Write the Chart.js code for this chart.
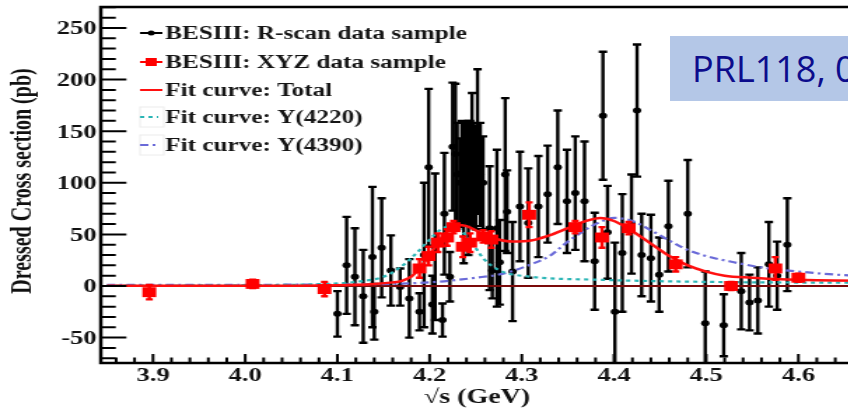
<!DOCTYPE html>
<html><head><meta charset="utf-8">
<script src="https://cdn.jsdelivr.net/npm/chart.js@4.4.1/dist/chart.umd.min.js"></script>
<style>
html,body{margin:0;padding:0;background:#fff;overflow:hidden;width:848px;height:410px;}
#wrap{position:absolute;left:0;top:0;width:640px;height:410px;transform:scaleX(1.4);transform-origin:0 0;}
#note{position:absolute;left:670px;top:36px;width:240px;height:65px;background:#b4c7e7;color:#0c0c8c;font-family:'Open Sans';font-size:36px;line-height:65px;padding-left:22px;box-sizing:border-box;white-space:nowrap;}
</style></head><body>
<div id="wrap"><canvas id="c" width="640" height="410"></canvas></div>
<div id="note">PRL118, 0</div>
<script>
// ---------- data ----------
const rscanEnergy = [4.100,4.110,4.119,4.128,4.138,4.140,4.148,4.158,4.168,4.178,4.189,4.194,4.199,4.203,4.206,4.214,4.216,4.222,4.225,
  4.228,4.230,4.233,4.235,4.237,4.240,4.242,4.244,4.246,4.248,4.250,4.252,4.255,4.258,
  4.265,4.268,4.273,4.276,4.282,4.284,4.290,4.298,4.307,4.318,4.328,4.339,4.349,4.358,4.368,4.379,4.388,4.393,4.401,4.409,
  4.419,4.425,4.430,4.440,4.449,4.459,4.480,4.499,4.519,4.538,4.547,4.556,4.568,4.577,4.588];
const rscanXsec = [-27,20,9,-10,28,-25,37,15,-1,-12,-25,30,115,-18,38,-33,70,9,135,
  128,108,100,110,90,110,95,110,122,108,105,140,108,100,
  56,15,56,23,108,72,14,77,61,77,89,115,82,90,82,24,165,52,-25,32,
  60,170,30,27,11,58,70,-36,-38,-5,-16,-14,21,10,40];
const rscanErr = [22,47,47,45,68,27,48,34,18,38,18,70,76,28,71,16,59,24,62,
  68,50,43,50,68,48,65,50,65,50,50,70,50,45,
  60,27,76,41,74,40,48,53,53,49,47,55,50,55,58,47,62,45,67,57,
  48,64,40,42,36,44,52,50,30,37,27,32,41,33,45];

const xyzEnergy = [3.896,4.008,4.086,4.189,4.199,4.209,4.219,4.226,4.236,4.244,4.258,4.267,4.308,4.358,4.387,4.416,4.467,4.527,4.575,4.600];
const xyzXsec   = [-6,2,-3,17,29,42,47,57,38,42,48,45,69,57,47,56,21,0,17,8];
const xyzErr    = [7,4,7,9,9,9,8,6,10,9,6,8,12,6,10,6,7,4,11,4];

const totalEnergy = [3.85,4.00,4.10,4.14,4.16,4.17,4.18,4.19,4.20,4.21,4.22,4.23,4.24,4.25,4.26,4.27,4.29,4.31,4.33,4.35,4.37,4.385,4.40,4.42,4.44,4.46,4.48,4.50,4.52,4.55,4.58,4.62,4.69];
const totalXsec   = [0.2,0.3,0.8,2,3.5,5,9,18,30,43,54,59,58,54,49,46,43,44,49,56,63,66,63,53,41,29,20,14,10,8,6.5,5.5,5];
const y4220Energy = [3.85,4.00,4.08,4.12,4.15,4.168,4.186,4.20,4.211,4.22,4.226,4.235,4.246,4.258,4.276,4.31,4.385,4.50,4.69];
const y4220Xsec   = [0.3,0.8,1.8,4,9,18,32,45,54,58,59,53,42,27,15,9,6,4,3];
const y4390Energy = [3.85,4.10,4.20,4.25,4.28,4.31,4.33,4.35,4.37,4.385,4.40,4.42,4.44,4.46,4.48,4.50,4.53,4.56,4.60,4.65,4.69];
const y4390Xsec   = [1,1.5,3.5,8,12,21,29,43,55,62,66,63,54,44,35,29,23,18,14,10.5,9.5];

const xTickValues = [3.9,4.0,4.1,4.2,4.3,4.4,4.5,4.6];
const xTickLabels = ['3.9','4.0','4.1','4.2','4.3','4.4','4.5','4.6'];
const xMinorStep = 0.02;
const yTickValues = [-50,0,50,100,150,200,250];
const yTickLabels = ['-50','0','50','100','150','200','250'];
const yMinorStep = 10;
const refLineValue = 0;
const xTitle = '\u221As (GeV)';
const yTitle = 'Dressed Cross section (pb)';
const seriesLabels = ['BESIII: R-scan data sample','BESIII: XYZ data sample','Fit curve: Total','Fit curve: Y(4220)','Fit curve: Y(4390)'];

// ---------- build ----------
const pts = (xs, ys) => xs.map((x, i) => ({x, y: ys[i]}));
const SERIF = '"Liberation Serif", "Times New Roman", serif';

const decor = {
  id: 'decor',
  beforeDatasetDraw(chart, args) {
    const ds = chart.data.datasets[args.index];
    if (!ds.errors) return;
    const {ctx, chartArea: a} = chart;
    const ys = chart.scales.y;
    ctx.save();
    ctx.beginPath(); ctx.rect(a.left, a.top, a.right - a.left, a.bottom - a.top); ctx.clip();
    ctx.strokeStyle = ds.errColor; ctx.lineWidth = ds.errWidth;
    const cap = ds.capHalf;
    args.meta.data.forEach((el, i) => {
      const v = ds.data[i].y, e = ds.errors[i];
      const y1 = ys.getPixelForValue(v + e), y2 = ys.getPixelForValue(v - e);
      ctx.beginPath();
      ctx.moveTo(el.x, y1); ctx.lineTo(el.x, y2);
      ctx.moveTo(el.x - cap, y1); ctx.lineTo(el.x + cap, y1);
      ctx.moveTo(el.x - cap, y2); ctx.lineTo(el.x + cap, y2);
      ctx.stroke();
    });
    ctx.restore();
  },
  afterDatasetDraw(chart, args) {
    const ds = chart.data.datasets[args.index];
    if (!ds.zeroAfter) return;
    const {ctx, chartArea: a} = chart;
    const y0 = chart.scales.y.getPixelForValue(refLineValue);
    ctx.save();
    ctx.strokeStyle = '#7a0a0a'; ctx.lineWidth = 2;
    ctx.beginPath(); ctx.moveTo(a.left, y0); ctx.lineTo(a.right, y0); ctx.stroke();
    ctx.restore();
  },
  afterDraw(chart) {
    const {ctx, chartArea: a} = chart;
    const xs = chart.scales.x, ys = chart.scales.y;
    ctx.save();
    // frame
    ctx.strokeStyle = '#000'; ctx.lineWidth = 2.5;
    ctx.strokeRect(a.left, a.top, a.right - a.left, a.bottom - a.top);
    // inward ticks
    ctx.lineWidth = 2;
    ctx.beginPath();
    for (let k = Math.ceil(ys.min / yMinorStep); k <= Math.floor(ys.max / yMinorStep); k++) {
      const v = k * yMinorStep;
      const major = yTickValues.includes(v);
      const p = ys.getPixelForValue(v);
      ctx.moveTo(a.left, p); ctx.lineTo(a.left + (major ? 18.3 : 10.7), p);
    }
    for (let k = Math.ceil(xs.min / xMinorStep - 1e-9); k <= Math.floor(xs.max / xMinorStep + 1e-9); k++) {
      const v = k * xMinorStep;
      const major = xTickValues.some(t => Math.abs(t - v) < 1e-6);
      const p = xs.getPixelForValue(v);
      ctx.moveTo(p, a.bottom); ctx.lineTo(p, a.bottom - (major ? 9 : 5.5));
    }
    ctx.stroke();
    // tick labels
    ctx.fillStyle = '#111';
    ctx.font = 'bold 19px ' + SERIF;
    ctx.textAlign = 'right'; ctx.textBaseline = 'alphabetic';
    yTickValues.forEach((v, i) => ctx.fillText(yTickLabels[i], a.left - 3, ys.getPixelForValue(v) + 6.5));
    ctx.textAlign = 'center';
    xTickValues.forEach((v, i) => ctx.fillText(xTickLabels[i], xs.getPixelForValue(v), a.bottom + 18));
    // titles
    ctx.font = 'bold 20px ' + SERIF;
    ctx.fillText(xTitle, 340.7, 403);
    ctx.save();
    ctx.translate(16.4, 181); ctx.rotate(-Math.PI / 2);
    ctx.textBaseline = 'middle';
    ctx.fillText(yTitle, 0, 0);
    ctx.restore();
    // legend
    const rows = [33, 62, 90, 117, 145];
    const sx0 = 100, sx1 = 116, tx = 118;
    chart.data.datasets.forEach((ds, i) => {
      const y = rows[i];
      ctx.save();
      if (i >= 3) { ctx.strokeStyle = '#ececec'; ctx.lineWidth = 1; ctx.strokeRect(sx0, y - 10, sx1 - sx0 + 1, 20); }
      ctx.strokeStyle = ds.legendColor; ctx.lineWidth = 2;
      ctx.setLineDash(ds.borderDash || []);
      ctx.beginPath(); ctx.moveTo(sx0, y); ctx.lineTo(i >= 3 ? sx1 - 3 : sx1, y); ctx.stroke();
      ctx.setLineDash([]);
      ctx.fillStyle = ds.legendColor;
      if (i === 0) { ctx.beginPath(); ctx.arc(108, y, 2.5, 0, Math.PI * 2); ctx.fill(); }
      if (i === 1) { ctx.fillRect(104, y - 4, 8, 8); }
      ctx.restore();
      ctx.textAlign = 'left'; ctx.textBaseline = 'alphabetic';
      ctx.font = 'bold 18px ' + SERIF; ctx.fillStyle = '#151515';
      ctx.fillText(ds.label, tx, y + 6);
    });
    ctx.restore();
  }
};

new Chart(document.getElementById('c'), {
  type: 'scatter',
  data: {
    datasets: [
      { label: seriesLabels[0], data: pts(rscanEnergy, rscanXsec), errors: rscanErr, errColor: '#000', errWidth: 2.4, capHalf: 3,
        pointRadius: 3, pointBorderWidth: 0, backgroundColor: '#000', borderColor: '#000', showLine: false, order: 10, zeroAfter: true, legendColor: '#000' },
      { label: seriesLabels[1], data: pts(xyzEnergy, xyzXsec), errors: xyzErr, errColor: '#ff0000', errWidth: 2.4, capHalf: 2.5,
        pointStyle: 'rect', pointRadius: 7, pointBorderWidth: 0, backgroundColor: '#ff0000', borderColor: '#ff0000', showLine: false, order: 0, legendColor: '#ff0000' },
      { label: seriesLabels[2], data: pts(totalEnergy, totalXsec), showLine: true, pointRadius: 0, borderColor: '#ff1010', borderWidth: 2.5,
        cubicInterpolationMode: 'monotone', order: 1, legendColor: '#ff1010' },
      { label: seriesLabels[3], data: pts(y4220Energy, y4220Xsec), showLine: true, pointRadius: 0, borderColor: '#2ab5b5', borderWidth: 2.2,
        borderDash: [3, 3], cubicInterpolationMode: 'monotone', order: 2, legendColor: '#2ab5b5' },
      { label: seriesLabels[4], data: pts(y4390Energy, y4390Xsec), showLine: true, pointRadius: 0, borderColor: '#6a6ad8', borderWidth: 2.2,
        borderDash: [6, 3, 2, 3], cubicInterpolationMode: 'monotone', order: 3, legendColor: '#6a6ad8' }
    ]
  },
  options: {
    responsive: false, animation: false, devicePixelRatio: 1, events: [],
    layout: { padding: { left: 72, right: 10, top: 7, bottom: 47 } },
    scales: {
      x: { type: 'linear', min: 3.84338, max: 4.6907, display: false },
      y: { type: 'linear', min: -74.6, max: 270.3, display: false }
    },
    plugins: { legend: { display: false }, tooltip: { enabled: false } }
  },
  plugins: [decor]
});
</script>
</body></html>
